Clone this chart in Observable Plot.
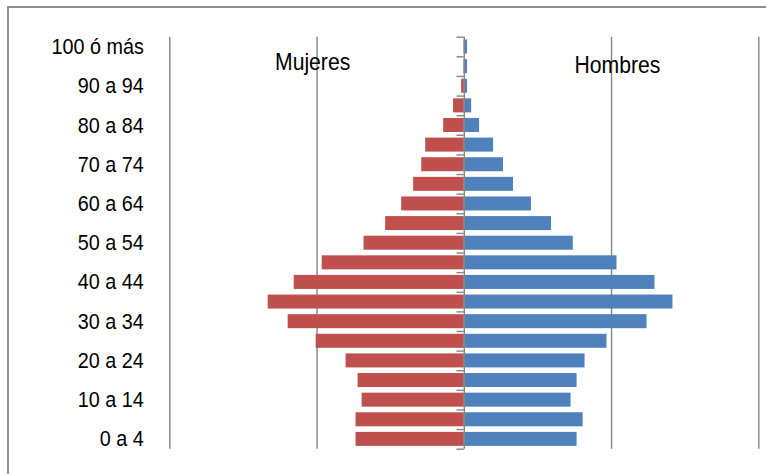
<!DOCTYPE html>
<html>
<head>
<meta charset="utf-8">
<script src="https://cdn.jsdelivr.net/npm/d3@7"></script>
<script src="https://cdn.jsdelivr.net/npm/@observablehq/plot@0.6"></script>
<style>
  html, body { margin: 0; padding: 0; background: #fff; overflow: hidden; }
  #wrap { position: relative; width: 766px; height: 474px; }
  #frame { position: absolute; left: 7px; top: 6px; width: 820px; height: 520px;
           border-left: 2px solid #8f8f8f; border-top: 2px solid #8f8f8f; pointer-events: none; }
</style>
</head>
<body>
<div id="wrap"><div id="frame"></div></div>
<script>
// Age groups, bottom (youngest) to top (oldest)
const ages = ["0 a 4","5 a 9","10 a 14","15 a 19","20 a 24","25 a 29","30 a 34","35 a 39",
  "40 a 44","45 a 49","50 a 54","55 a 59","60 a 64","65 a 69","70 a 74","75 a 79",
  "80 a 84","85 a 89","90 a 94","95 a 99","100 ó más"];
// Share of population (%) by sex
const mujeres = [0.735, 0.735, 0.694, 0.721, 0.803, 1.006, 1.196, 1.332, 1.155, 0.965, 0.681,
  0.534, 0.425, 0.344, 0.289, 0.262, 0.140, 0.073, 0.018, 0.003, 0.002];
const hombres = [0.766, 0.807, 0.725, 0.766, 0.820, 0.969, 1.241, 1.417, 1.295, 1.037, 0.740,
  0.592, 0.456, 0.334, 0.266, 0.199, 0.104, 0.050, 0.022, 0.022, 0.022];
const gridValues = [-2, -1, 1, 2];
const labelIndex = [0, 2, 4, 6, 8, 10, 12, 14, 16, 18, 20];

const rows = ages.map((a, i) => ({i, age: a, f: mujeres[i], m: hombres[i]}));
const bounds = d3.range(ages.length + 1).map(k => k - 0.5);
const half = 0.357;
const gray = "#868686";

const chart = Plot.plot({
  width: 766,
  height: 474,
  marginLeft: 169.3,
  marginRight: 7.7,
  marginTop: 36.7,
  marginBottom: 25.3,
  style: {fontFamily: "'Liberation Sans', Arial, sans-serif", fontSize: "22px", color: "#000", background: "transparent"},
  x: {domain: [-2, 2], axis: null},
  y: {domain: [-0.5, ages.length - 0.5], axis: null},
  marks: [
    Plot.ruleX(gridValues, {stroke: gray, strokeWidth: 1.4}),
    Plot.rectX(rows, {x1: 0, x2: d => -d.f, y1: d => d.i - half, y2: d => d.i + half, fill: "#C0504D"}),
    Plot.rectX(rows, {x1: 0, x2: d => d.m, y1: d => d.i - half, y2: d => d.i + half, fill: "#4F81BD"}),
    Plot.ruleX([0], {stroke: gray, strokeWidth: 1.4}),
    Plot.ruleY(bounds, {y: d => d, x1: -0.05, x2: 0, stroke: gray, strokeWidth: 1.4}),
    Plot.text(labelIndex, {x: -2, y: d => d, text: d => ages[d], textAnchor: "end", dx: -26, fill: "#000"}),
    Plot.text(["Mujeres"], {x: -1.03, y: 19.2, text: d => d, fill: "#000", fontSize: 23.5}),
    Plot.text(["Hombres"], {x: 1.04, y: 19.05, text: d => d, fill: "#000", fontSize: 23.5})
  ]
});
document.getElementById("wrap").prepend(chart);

// Slightly condense the text horizontally, like the reference rendering
const s = 0.9;
chart.querySelectorAll("text").forEach(t => {
  const ax = +(t.getAttribute("x") || 0);
  const prev = t.getAttribute("transform") || "";
  t.setAttribute("transform", `${prev} translate(${ax},0) scale(${s},1) translate(${-ax},0)`.trim());
});
</script>
</body>
</html>
